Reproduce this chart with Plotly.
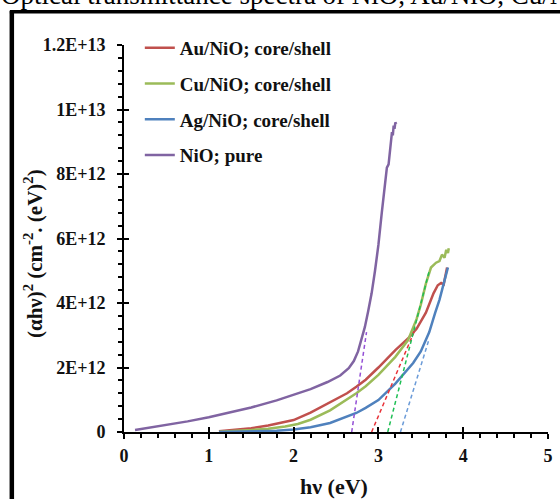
import plotly.graph_objects as go

# Tauc plot data: photon energy (eV) and (alpha*h*nu)^2 (cm^-2 eV^2)
hv_au = [1.12, 1.3, 1.5, 1.7, 1.9, 2.0, 2.2, 2.43, 2.63, 2.74, 2.85, 3.0, 3.2, 3.35, 3.45, 3.56, 3.65, 3.7, 3.74, 3.77, 3.79, 3.81]
y_au = [0.02e12, 0.06e12, 0.12e12, 0.2e12, 0.3e12, 0.37e12, 0.6e12, 0.92e12, 1.2e12, 1.4e12, 1.62e12, 2.0e12, 2.54e12, 2.9e12, 3.2e12, 3.7e12, 4.3e12, 4.55e12, 4.62e12, 4.58e12, 4.9e12, 5.1e12]

hv_cu = [1.12, 1.3, 1.5, 1.7, 1.9, 2.05, 2.2, 2.43, 2.6, 2.74, 2.85, 3.0, 3.2, 3.35, 3.45, 3.5, 3.56, 3.62, 3.68, 3.72, 3.75, 3.78, 3.8, 3.82, 3.83]
y_cu = [0.01e12, 0.03e12, 0.06e12, 0.1e12, 0.17e12, 0.25e12, 0.38e12, 0.67e12, 0.95e12, 1.2e12, 1.42e12, 1.77e12, 2.33e12, 2.85e12, 3.5e12, 3.95e12, 4.6e12, 5.1e12, 5.25e12, 5.3e12, 5.5e12, 5.4e12, 5.65e12, 5.55e12, 5.7e12]

hv_ag = [1.12, 1.5, 1.8, 2.0, 2.2, 2.43, 2.6, 2.74, 2.85, 3.0, 3.2, 3.33, 3.41, 3.5, 3.56, 3.6, 3.67, 3.72, 3.76, 3.8, 3.82]
y_ag = [0.0, 0.01e12, 0.04e12, 0.08e12, 0.15e12, 0.28e12, 0.45e12, 0.59e12, 0.75e12, 0.99e12, 1.5e12, 1.9e12, 2.14e12, 2.5e12, 2.85e12, 3.1e12, 3.7e12, 4.1e12, 4.5e12, 4.85e12, 5.1e12]

hv_nio = [0.13, 0.3, 0.5, 0.75, 1.0, 1.25, 1.5, 1.8, 2.0, 2.2, 2.4, 2.55, 2.65, 2.71, 2.76, 2.8, 2.84, 2.88, 2.92, 2.96, 3.0, 3.04, 3.07, 3.1, 3.12, 3.13, 3.15, 3.16, 3.17, 3.18, 3.19, 3.2, 3.21]
y_nio = [0.06e12, 0.13e12, 0.22e12, 0.33e12, 0.46e12, 0.6e12, 0.76e12, 0.98e12, 1.16e12, 1.33e12, 1.55e12, 1.75e12, 1.98e12, 2.2e12, 2.5e12, 2.85e12, 3.25e12, 3.75e12, 4.3e12, 5.0e12, 5.8e12, 6.8e12, 7.6e12, 8.2e12, 8.3e12, 8.6e12, 8.95e12, 9.3e12, 9.2e12, 9.5e12, 9.4e12, 9.6e12, 9.55e12]

# Linear extrapolations of the absorption edges to the energy axis
fit_nio_x = [2.685, 2.86]
fit_nio_y = [0.0, 3.1e12]
fit_au_x = [2.92, 3.42]
fit_au_y = [0.0, 3.1e12]
fit_cu_x = [3.11, 3.6]
fit_cu_y = [0.0, 5.0e12]
fit_ag_x = [3.26, 3.6]
fit_ag_y = [0.0, 2.9e12]

names = ["Au/NiO; core/shell", "Cu/NiO; core/shell", "Ag/NiO; core/shell", "NiO; pure"]
x_ticks = [0, 1, 2, 3, 4, 5]
y_ticks = [0, 2e12, 4e12, 6e12, 8e12, 10e12, 12e12]
y_tick_text = ["0", "2E+12", "4E+12", "6E+12", "8E+12", "1E+13", "1.2E+13"]

W, H = 560, 499
L, R, T, B = 124, 7, 45, 67
PW, PH = W - L - R, H - T - B

def px(xp):
    return (xp - L) / PW

def py(yp):
    return (H - B - yp) / PH

SERIF = "Liberation Serif, Times New Roman, serif"
INK = "#111111"

fig = go.Figure()

curves = [
    (hv_au, y_au, "#C0504D"),
    (hv_cu, y_cu, "#9BBB59"),
    (hv_ag, y_ag, "#4F81BD"),
    (hv_nio, y_nio, "#8064A2"),
]
for i, (xs, ys, col) in enumerate(curves):
    fig.add_trace(go.Scatter(
        x=xs, y=ys, mode="lines", name=names[i], legendgroup=f"g{i}",
        line=dict(color=col, width=2.5), cliponaxis=True,
    ))

fits = [
    (fit_nio_x, fit_nio_y, "#9450D6"),
    (fit_au_x, fit_au_y, "#E8333A"),
    (fit_cu_x, fit_cu_y, "#1FBF55"),
    (fit_ag_x, fit_ag_y, "#6B9BD8"),
]
for xs, ys, col in fits:
    fig.add_trace(go.Scatter(
        x=xs, y=ys, mode="lines", showlegend=False,
        line=dict(color=col, width=1.5, dash="4px,3px"),
    ))

# invisible trace to carry the overlay axes (inner halves of the crossing ticks)
fig.add_trace(go.Scatter(x=[0], y=[0], xaxis="x2", yaxis="y2", mode="markers",
                         marker=dict(opacity=0), showlegend=False, hoverinfo="skip"))

tick_font = dict(family=SERIF, size=18, color=INK, weight="bold")

fig.update_layout(
    width=W, height=H,
    margin=dict(l=L, r=R, t=T, b=B),
    paper_bgcolor="white", plot_bgcolor="white",
    xaxis=dict(
        range=[0, 5], tickvals=x_ticks, ticks="outside", ticklen=5, tickwidth=2,
        tickcolor="black", showline=True, linecolor="black", linewidth=2,
        showgrid=False, zeroline=False, tickfont=tick_font, ticklabelstandoff=1,
        minor=dict(ticks="outside", ticklen=4, tickwidth=1.5, dtick=0.2, tickcolor="black", showgrid=False),
    ),
    yaxis=dict(
        range=[0, 12e12], tickvals=y_ticks, ticktext=y_tick_text, ticks="outside",
        ticklen=5, tickwidth=2, tickcolor="black", showline=True, linecolor="black",
        linewidth=2, showgrid=False, zeroline=False, tickfont=tick_font, ticklabelstandoff=8,
        minor=dict(ticks="outside", ticklen=4, tickwidth=1.5, dtick=0.4e12, tickcolor="black", showgrid=False),
    ),
    xaxis2=dict(range=[0, 5], overlaying="x", anchor="y", tickvals=x_ticks, ticks="inside",
                ticklen=5, tickwidth=2, tickcolor="black", showticklabels=False,
                showgrid=False, zeroline=False, showline=False),
    yaxis2=dict(range=[0, 12e12], overlaying="y", anchor="x", tickvals=y_ticks, ticks="inside",
                ticklen=5, tickwidth=2, tickcolor="black", showticklabels=False,
                showgrid=False, zeroline=False, showline=False),
    legend=dict(
        x=px(140), y=py(29), xanchor="left", yanchor="top",
        font=dict(family=SERIF, size=19, color=INK, weight="bold"),
        bgcolor="rgba(0,0,0,0)", traceorder="grouped", tracegroupgap=8,
        itemwidth=30,
    ),
    showlegend=True,
)

fig.add_annotation(
    text="(αhν)<sup>2</sup> (cm<sup>-2</sup>. (eV)<sup>2</sup>)",
    xref="paper", yref="paper", x=px(32), y=py(254), textangle=-90,
    xanchor="center", yanchor="middle", showarrow=False,
    font=dict(family=SERIF, size=21, color=INK, weight="bold"),
)
fig.add_annotation(
    text="hν (eV)", xref="paper", yref="paper", x=px(336), y=py(486),
    xanchor="center", yanchor="middle", showarrow=False,
    font=dict(family=SERIF, size=22, color=INK, weight="bold"),
)
fig.add_annotation(
    text="Optical transmittance spectra of NiO, Au/NiO, Cu/NiO and Ag/NiO",
    xref="paper", yref="paper", x=px(-2), y=py(12), xanchor="left", yanchor="bottom",
    showarrow=False, font=dict(family=SERIF, size=27, color="black"),
)

# outer frame of the figure panel
fig.add_shape(type="line", xref="paper", yref="paper", x0=px(10.5), x1=px(10.5),
              y0=py(11), y1=py(520), line=dict(color="black", width=4.5))
fig.add_shape(type="line", xref="paper", yref="paper", x0=px(8.5), x1=px(580),
              y0=py(11.8), y1=py(11.8), line=dict(color="black", width=3.5))

fig.write_html("out.html")
